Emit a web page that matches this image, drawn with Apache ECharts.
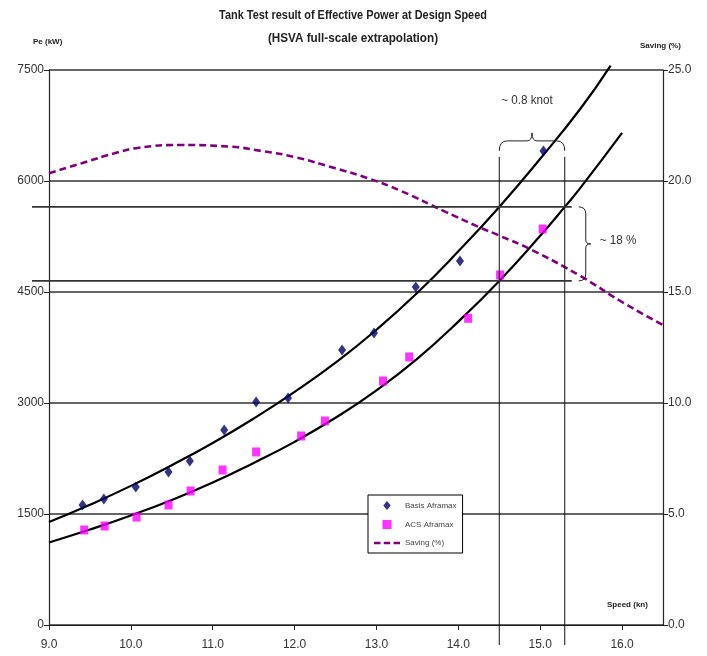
<!DOCTYPE html>
<html><head><meta charset="utf-8">
<script src="https://cdn.jsdelivr.net/npm/echarts@6/dist/echarts.min.js"></script>
<style>html,body{margin:0;padding:0;background:#fff}#c{width:707px;height:656px}</style>
</head><body><div id="c"></div>
<script>
// ---- data ----
const basisSpeed = [9.41, 9.67, 10.06, 10.46, 10.72, 11.14, 11.53, 11.92, 12.58, 12.97, 13.48, 14.02, 15.04];
const basisPower = [1622, 1703, 1865, 2068, 2216, 2635, 3014, 3068, 3716, 3946, 4568, 4919, 6405];
const acsSpeed = [9.43, 9.68, 10.07, 10.46, 10.73, 11.12, 11.53, 12.08, 12.37, 13.08, 13.40, 14.12, 14.51, 15.03];
const acsPower = [1284, 1338, 1459, 1622, 1811, 2095, 2338, 2554, 2757, 3297, 3622, 4145, 4730, 5351];
const basisFitSpeed = [9.0, 9.5, 10.0, 10.5, 11.0, 11.5, 12.0, 12.5, 13.0, 13.5, 14.0, 14.5, 15.0, 15.5, 15.86];
const basisFitPower = [1392, 1625, 1880, 2160, 2460, 2790, 3150, 3545, 3990, 4490, 5050, 5650, 6300, 6990, 7560];
const acsFitSpeed = [9.0, 9.5, 10.0, 10.5, 11.0, 11.5, 12.0, 12.5, 13.0, 13.5, 14.0, 14.5, 15.0, 15.3, 15.5, 16.0];
const acsFitPower = [1115, 1290, 1480, 1690, 1925, 2190, 2475, 2800, 3170, 3600, 4100, 4650, 5260, 5650, 5920, 6650];
const savingSpeed = [9.0, 9.4, 9.8, 10.1, 10.6, 11.2, 11.6, 12.0, 12.5, 12.9, 13.3, 13.85, 14.25, 14.5, 14.9, 15.5, 16.0, 16.5];
const savingPct = [20.35, 20.8, 21.25, 21.5, 21.62, 21.55, 21.35, 21.08, 20.57, 20.12, 19.55, 18.6, 17.93, 17.54, 16.89, 15.7, 14.55, 13.51];
const powerTicks = [0, 1500, 3000, 4500, 6000, 7500];
const savingTicks = [0, 5, 10, 15, 20, 25];
const speedTicks = [9, 10, 11, 12, 13, 14, 15, 16];
const refSpeeds = [14.5, 15.3];
const refPowers = [5650, 4650];
const titleLines = ['Tank Test result of Effective Power at Design Speed', '(HSVA full-scale extrapolation)'];
const knotLabel = '~ 0.8 knot';
const pctLabel = '~ 18 %';

const FONT = "'Liberation Sans', Arial, sans-serif";
const pairs = (xs, ys) => xs.map((x, i) => [x, ys[i]]);

const chart = echarts.init(document.getElementById('c'), null, {renderer: 'canvas'});
const option = {
  animation: false,
  backgroundColor: '#fff',
  grid: {left: 49, right: 44, top: 70, bottom: 31, containLabel: false},
  legend: {
    orient: 'vertical', left: 368, top: 495,
    data: [
      {name: 'Basis Aframax', icon: 'path://M5,0L10,6L5,12L0,6Z'},
      {name: 'ACS Aframax', icon: 'path://M0,0h10v10h-10z'},
      {name: 'Saving (%)', icon: 'path://M0,0h6v2.4h-6z M9,0h6v2.4h-6z M18,0h6v2.4h-6z'}
    ],
    backgroundColor: '#fff', borderColor: '#000', borderWidth: 1,
    padding: [6, 6, 6, 6], itemGap: 10, itemWidth: 26, itemHeight: 9,
    textStyle: {fontFamily: FONT, fontSize: 8, color: '#444'}
  },
  xAxis: {
    type: 'value', min: speedTicks[0], max: 16.5, interval: 1,
    axisLine: {show: true, lineStyle: {color: '#222', width: 1.2}},
    axisTick: {show: true, length: 5, lineStyle: {color: '#222'}},
    axisLabel: {
      showMaxLabel: false, margin: 14, color: '#333', fontFamily: FONT, fontSize: 12,
      formatter: v => speedTicks.includes(v) ? v.toFixed(1) : ''
    },
    splitLine: {show: false}
  },
  yAxis: [{
    type: 'value', min: powerTicks[0], max: powerTicks[powerTicks.length - 1], interval: 1500,
    axisLine: {show: true, lineStyle: {color: '#222', width: 1.2}},
    axisTick: {show: true, length: 5, lineStyle: {color: '#222'}},
    axisLabel: {margin: 5, color: '#333', fontFamily: FONT, fontSize: 12, formatter: v => String(v)},
    splitLine: {show: true, lineStyle: {color: '#333', width: 1.6}}
  }, {
    type: 'value', min: savingTicks[0], max: savingTicks[savingTicks.length - 1], interval: 5,
    position: 'right',
    axisLine: {show: true, lineStyle: {color: '#222', width: 1.2}},
    axisTick: {show: true, length: 5, lineStyle: {color: '#222'}},
    axisLabel: {margin: 5, color: '#333', fontFamily: FONT, fontSize: 12, formatter: v => v.toFixed(1)},
    splitLine: {show: false}
  }],
  series: [
    {name: 'basisFit', type: 'line', data: pairs(basisFitSpeed, basisFitPower), smooth: 0.5, symbol: 'none',
     lineStyle: {color: '#000', width: 2.2}, clip: false, z: 3},
    {name: 'acsFit', type: 'line', data: pairs(acsFitSpeed, acsFitPower), smooth: 0.5, symbol: 'none',
     lineStyle: {color: '#000', width: 2.2}, clip: false, z: 3},
    {name: 'Saving (%)', type: 'line', yAxisIndex: 1, data: pairs(savingSpeed, savingPct), smooth: 0.5, symbol: 'none',
     lineStyle: {color: '#800080', width: 2.6, type: [7, 4]}, itemStyle: {color: '#800080'}, z: 3},
    {name: 'Basis Aframax', type: 'scatter', data: pairs(basisSpeed, basisPower), symbol: 'diamond', symbolSize: [8, 11],
     itemStyle: {color: '#00006a'}, z: 5},
    {name: 'ACS Aframax', type: 'scatter', data: pairs(acsSpeed, acsPower), symbol: 'rect', symbolSize: [8, 9],
     itemStyle: {color: '#ff00ff'}, z: 5}
  ]
};
chart.setOption(option);

function drawAnnotations() {
  const P = (x, y) => chart.convertToPixel({gridIndex: 0}, [x, y]);
  const axis0 = P(speedTicks[0], 0);
  const elements = [];
  const thin = {stroke: '#222', lineWidth: 1, fill: 'none'};
  const L = (x1, y1, x2, y2, style) => elements.push({type: 'line', shape: {x1, y1, x2, y2}, style: style || thin, z: 10});
  const Q = (x1, y1, cpx1, cpy1, x2, y2) => elements.push({type: 'bezierCurve', shape: {x1, y1, cpx1, cpy1, x2, y2}, style: thin, z: 10});
  // vertical reference lines at the two speeds
  const vx = refSpeeds.map(s => P(s, 0)[0]);
  const vTop = P(refSpeeds[0], refPowers[0])[1] - 50;
  vx.forEach(x => L(x, vTop, x, axis0[1] + 20, {stroke: '#111', lineWidth: 1}));
  // horizontal reference lines at the two powers
  const hy = refPowers.map(p => P(speedTicks[0], p)[1]);
  hy.forEach(y => L(axis0[0] - 17, y, vx[1] + 7, y, {stroke: '#333', lineWidth: 1.6}));
  // horizontal brace over the speed gap
  const by = vTop - 16, mid = (vx[0] + vx[1]) / 2;
  Q(vx[0], by + 10, vx[0], by, vx[0] + 8, by);
  L(vx[0] + 8, by, mid - 5, by);
  Q(mid - 5, by, mid, by, mid, by - 8);
  Q(mid, by - 8, mid, by, mid + 5, by);
  L(mid + 5, by, vx[1] - 8, by);
  Q(vx[1] - 8, by, vx[1], by, vx[1], by + 10);
  elements.push({type: 'text', x: mid - 5, y: by - 40, style: {text: knotLabel, fill: '#333', font: `13px ${FONT}`, align: 'center', verticalAlign: 'middle'}, scaleX: 0.9, z: 10});
  // vertical brace over the power gap
  const bx = vx[1] + 21, ym = (hy[0] + hy[1]) / 2;
  Q(bx - 7, hy[0], bx, hy[0], bx, hy[0] + 7);
  L(bx, hy[0] + 7, bx, ym - 4);
  Q(bx, ym - 4, bx, ym, bx + 5, ym);
  Q(bx + 5, ym, bx, ym, bx, ym + 4);
  L(bx, ym + 4, bx, hy[1] - 7);
  Q(bx, hy[1] - 7, bx, hy[1], bx - 7, hy[1]);
  elements.push({type: 'text', x: bx + 14, y: ym - 3, style: {text: pctLabel, fill: '#333', font: `13px ${FONT}`, align: 'left', verticalAlign: 'middle'}, scaleX: 0.9, z: 10});
  // title
  elements.push({type: 'text', x: 353, y: 15, style: {text: titleLines[0], fill: '#222', font: `bold 13px ${FONT}`, align: 'center', verticalAlign: 'middle'}, scaleX: 0.84});
  elements.push({type: 'text', x: 353, y: 38, style: {text: titleLines[1], fill: '#222', font: `bold 13px ${FONT}`, align: 'center', verticalAlign: 'middle'}, scaleX: 0.9});
  // axis names
  elements.push({type: 'text', x: 33, y: 42, style: {text: 'Pe (kW)', fill: '#222', font: `bold 8px ${FONT}`, verticalAlign: 'middle'}});
  elements.push({type: 'text', x: 640, y: 46, style: {text: 'Saving (%)', fill: '#222', font: `bold 8px ${FONT}`, verticalAlign: 'middle'}});
  elements.push({type: 'text', x: 607, y: 605, style: {text: 'Speed (kn)', fill: '#222', font: `bold 8px ${FONT}`, verticalAlign: 'middle'}});
  chart.setOption({graphic: {elements}});
}
drawAnnotations();
</script></body></html>
